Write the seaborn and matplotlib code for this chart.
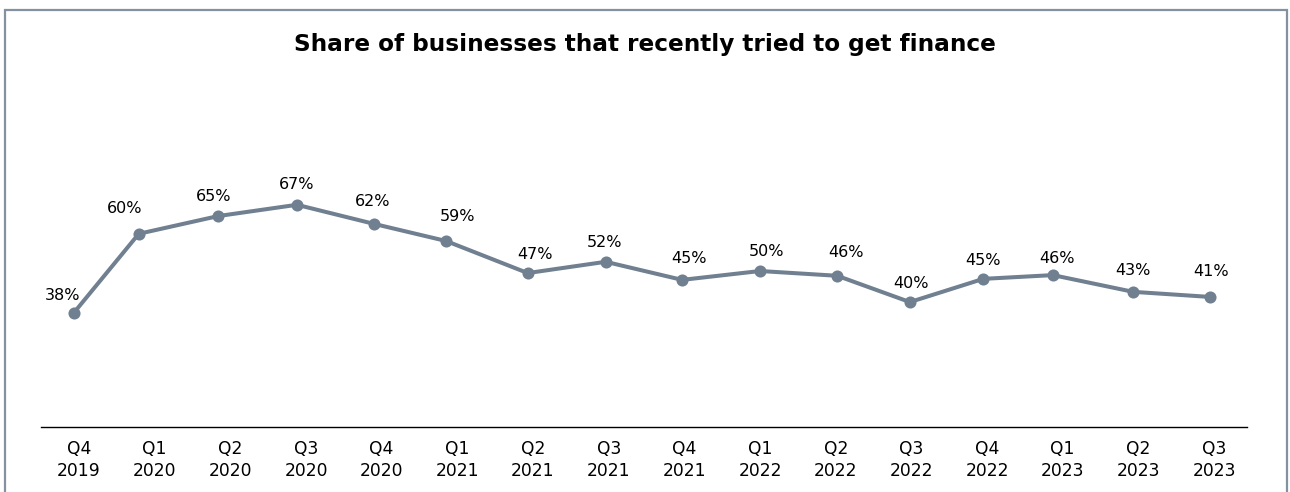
import pandas as pd
import numpy as np
import seaborn as sns
import matplotlib.pyplot as plt
from matplotlib.patches import Rectangle

#* STEP 1: data

quarters = ['Q4\n2019', 'Q1\n2020', 'Q2\n2020', 'Q3\n2020', 'Q4\n2020', 'Q1\n2021',
            'Q2\n2021', 'Q3\n2021', 'Q4\n2021', 'Q1\n2022', 'Q2\n2022', 'Q3\n2022',
            'Q4\n2022', 'Q1\n2023', 'Q2\n2023', 'Q3\n2023']
# printed labels
share_labels = [38, 60, 65, 67, 62, 59, 47, 52, 45, 50, 46, 40, 45, 46, 43, 41]
# where the markers actually sit
share_plotted = [36.3, 59.5, 64.7, 68.0, 62.4, 57.4, 48.0, 51.3, 46.0, 48.6, 47.2,
                 39.5, 46.3, 47.4, 42.5, 41.0]
# survey wave position along the quarter axis (markers are not exactly on the ticks)
wave_pos = [-0.07, 0.79, 1.84, 2.88, 3.90, 4.85, 5.93, 6.96, 7.97, 9.00, 10.02,
            10.98, 11.95, 12.87, 13.93, 14.95]

data = pd.DataFrame({'Wave': wave_pos, 'Share': share_plotted})

#* STEP 2: plot

sns.set_style('white')
# seaborn resets the fonts, so set them back to DejaVu Sans afterwards
plt.rcParams['font.family'] = 'sans-serif'
plt.rcParams['font.sans-serif'] = ['DejaVu Sans']
plt.rcParams['text.color'] = 'black'
plt.rcParams['xtick.color'] = 'black'

fig = plt.figure(figsize=(12.9, 4.92), dpi=100)
ax = fig.add_axes([41 / 1290, 1 - 427 / 492, 1206 / 1290, 327 / 492])

line_color = '#708090'
sns.lineplot(data=data, x='Wave', y='Share', sort=False, ax=ax, color=line_color,
             linewidth=2.9, marker='o', markersize=8.7, markeredgewidth=0)

# value labels above each point, nudged like in the original (pixels)
label_dx = [-11, -14, -5, 0, -1, 11, 7, -1, 7, 6, 9, 1, 0, 4, 0, 1]
label_dy = [17, 25, 20, 20, 22, 24, 19, 19, 21, 20, 23, 19, 18, 17, 21, 25]
for x, y, lab, dx, dy in zip(wave_pos, share_plotted, share_labels, label_dx, label_dy):
    ax.annotate(f'{lab}%', (x, y), xytext=(dx * 0.72, dy * 0.72),
                textcoords='offset points', ha='center', va='center',
                fontsize=11.5, color='black', family='DejaVu Sans')

ax.set_xlim(-0.502, 15.435)
ax.set_ylim(2.9, 98.7)
ax.set_xticks(range(len(quarters)))
ax.set_xticklabels(quarters, linespacing=1.35)
ax.set_xlabel('')
ax.set_ylabel('')
ax.set_yticks([])
ax.tick_params(axis='x', length=0, labelsize=12.3, pad=9, labelcolor='black')

# only keep the bottom axis line
for side in ['top', 'right', 'left']:
    ax.spines[side].set_visible(False)
ax.spines['bottom'].set_color('black')
ax.spines['bottom'].set_linewidth(1)

fig.suptitle('Share of businesses that recently tried to get finance',
             fontsize=16.7, fontweight='bold', y=1 - 45 / 492, va='center',
             family='DejaVu Sans', color='black')

# grey frame round the figure (open at the bottom)
fig.patches.append(Rectangle((4.5 / 1290, -0.1), (1287 - 4.5) / 1290, 1.1 - 9.5 / 492,
                             transform=fig.transFigure, fill=False,
                             edgecolor='#8391a0', linewidth=1.6))

plt.savefig('out.png', dpi=100)
